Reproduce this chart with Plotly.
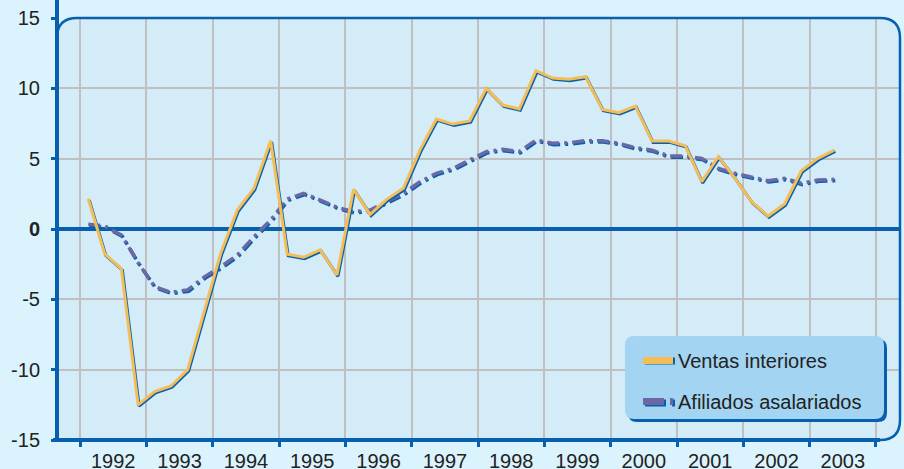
import plotly.graph_objects as go
import pandas as pd

# ---------------- data ----------------
quarters = [str(p) for p in pd.period_range("1992Q1", "2003Q2", freq="Q")]
ventas = [2.15, -1.78, -2.84, -12.5,
          -11.56, -11.16, -10.0, -5.76,
          -1.68, 1.35, 2.89, 6.28,
          -1.8, -2.01, -1.49, -3.27,
          2.82, 1.04, 2.11, 2.89,
          5.61, 7.82, 7.46, 7.68,
          10.0, 8.81, 8.53, 11.25,
          10.73, 10.64, 10.83, 8.5,
          8.27, 8.74, 6.25, 6.25,
          5.92, 3.36, 5.14, 3.6,
          1.94, 0.92, 1.78, 4.14,
          5.02, 5.61]
afiliados = [0.33, 0.21, -0.43, -2.4,
             -4.1, -4.5, -4.33, -3.4,
             -2.68, -1.85, -0.55, 0.64,
             2.13, 2.54, 2.06, 1.54,
             1.23, 1.35, 1.94, 2.54,
             3.36, 3.96, 4.31, 4.9,
             5.5, 5.66, 5.5, 6.33,
             6.09, 6.13, 6.28, 6.28,
             6.09, 5.78, 5.61, 5.19,
             5.19, 5.02, 4.31, 3.96,
             3.67, 3.43, 3.6, 3.25,
             3.48, 3.53]
y_ticks = [-15, -10, -5, 0, 5, 10, 15]
y_ticktext = ["-15", "-10", "-5", "<b>0</b>", "5", "10", "15"]
series_names = ["Ventas interiores", "Afiliados asalariados"]

# ---------------- style ----------------
BLUE = "#0660ad"
YELLOW = "#f4bd56"
PURPLE = "#6c68a6"
PAPER = "#dbf3fd"
PLOTBG = "#d4ebf8"
LEGBG = "#a3d4f1"
GRID = "#c0c0c0"
TXT = "#222222"
FONT = "Liberation Sans, Arial, sans-serif"

W, H = 904, 469
ML, MR, MT, MB = 57, 4, 18, 29
PW, PH = W - ML - MR, H - MT - MB
PX_PER_YEAR = 66.33

periods = pd.PeriodIndex(quarters, freq="Q")
x = [p.start_time + (p.end_time - p.start_time) / 2 for p in periods]
day_px = 365.25 / PX_PER_YEAR
x_sh = [d + pd.Timedelta(days=1.0 * day_px) for d in x]
dy = 1.3 * 30 / PH

x_left = pd.Timestamp("1992-01-01") - pd.Timedelta(days=(80 - ML) * day_px)
x_right = pd.Timestamp("1992-01-01") + pd.Timedelta(days=(W - MR - 80) * day_px)

DASH = "12px,5px,3px,5px"
LEG_DASH = "21px,6px,3px,100px"

fig = go.Figure()
# Afiliados (shadow + line)
fig.add_trace(go.Scatter(x=x_sh, y=[v - dy for v in afiliados], mode="lines",
                         line=dict(color=BLUE, width=3.5, dash=DASH),
                         showlegend=False, hoverinfo="skip"))
fig.add_trace(go.Scatter(x=x, y=afiliados, mode="lines", name=series_names[1],
                         line=dict(color=PURPLE, width=3.5, dash=DASH),
                         showlegend=False))
# Ventas (shadow + line)
fig.add_trace(go.Scatter(x=x_sh, y=[v - dy for v in ventas], mode="lines",
                         line=dict(color=BLUE, width=3),
                         showlegend=False, hoverinfo="skip"))
fig.add_trace(go.Scatter(x=x, y=ventas, mode="lines", name=series_names[0],
                         line=dict(color=YELLOW, width=3),
                         showlegend=False))
# legend-only entries
fig.add_trace(go.Scatter(x=[None], y=[None], mode="lines", name=series_names[0],
                         line=dict(color=YELLOW, width=7), legendgroup="a"))
fig.add_trace(go.Scatter(x=[None], y=[None], mode="lines", name=series_names[1],
                         line=dict(color=PURPLE, width=7, dash=LEG_DASH),
                         legendgroup="b"))

def px_x(px):
    return (px - ML) / PW

def px_y(py):
    return (H - MB - py) / PH

rx, ry = 20 / PW, 20 / PH
frame_fill = (f"M 0,0 L 0,{1-ry} Q 0,1 {rx},1 L {1-rx},1 Q 1,1 1,{1-ry} "
              f"L 1,{ry} Q 1,0 {1-rx},0 Z")
frame_line = (f"M 0,{1-ry} Q 0,1 {rx},1 L {1-rx},1 Q 1,1 1,{1-ry} "
              f"L 1,{ry} Q 1,0 {1-rx},0")

def rrect(x0, y0, x1, y1, r):
    a0, a1 = px_x(x0), px_x(x1)
    b0, b1 = px_y(y1), px_y(y0)
    qx, qy = r / PW, r / PH
    return (f"M {a0+qx},{b0} L {a1-qx},{b0} Q {a1},{b0} {a1},{b0+qy} "
            f"L {a1},{b1-qy} Q {a1},{b1} {a1-qx},{b1} L {a0+qx},{b1} "
            f"Q {a0},{b1} {a0},{b1-qy} L {a0},{b0+qy} Q {a0},{b0} {a0+qx},{b0} Z")

def pline(x0, x1, y, width, color, dash="solid"):
    return dict(type="line", xref="paper", yref="paper",
                x0=px_x(x0), x1=px_x(x1), y0=px_y(y), y1=px_y(y),
                line=dict(color=color, width=width, dash=dash), layer="above")

LEG_X0 = 643
ROW1, ROW2 = 359, 401

shapes = [
    dict(type="path", path=frame_fill, xref="paper", yref="paper",
         fillcolor=PLOTBG, line=dict(width=0), layer="below"),
    dict(type="path", path=frame_line, xref="paper", yref="paper",
         line=dict(color=BLUE, width=2.5), layer="above"),
    dict(type="line", xref="paper", yref="paper", x0=0, x1=0,
         y0=-2 / PH, y1=1 + MT / PH, line=dict(color=BLUE, width=4), layer="above"),
    dict(type="line", xref="paper", yref="paper", x0=-4 / PW, x1=1 - rx,
         y0=0, y1=0, line=dict(color=BLUE, width=4), layer="above"),
    # legend box shadow and box
    dict(type="path", path=rrect(628, 339, 887, 422, 9), xref="paper", yref="paper",
         fillcolor=BLUE, line=dict(width=0), layer="above"),
    dict(type="path", path=rrect(625, 336, 884, 419, 9), xref="paper", yref="paper",
         fillcolor=LEGBG, line=dict(width=0), layer="above"),
    # legend symbol shadows
    pline(LEG_X0 + 2, LEG_X0 + 32, ROW1 + 2, 7, BLUE),
    pline(LEG_X0 + 2, LEG_X0 + 32, ROW2 + 2, 7, BLUE, LEG_DASH),
]

fig.update_layout(
    width=W, height=H,
    margin=dict(l=ML, r=MR, t=MT, b=MB, pad=0, autoexpand=False),
    paper_bgcolor=PAPER, plot_bgcolor=PAPER,
    font=dict(family=FONT, size=20, color=TXT),
    shapes=shapes,
    showlegend=True,
    legend=dict(x=px_x(630 + 8), y=px_y(340 + 1), xanchor="left", yanchor="top",
                bgcolor="rgba(0,0,0,0)", borderwidth=0,
                font=dict(family=FONT, size=20, color=TXT),
                tracegroupgap=12, itemwidth=30),
    xaxis=dict(type="date", range=[x_left, x_right], automargin=False,
               tick0="1992-01-01", dtick="M12", tickformat="%Y",
               ticklabelmode="period", ticklabelstandoff=-3,
               showgrid=True, gridcolor=GRID, gridwidth=2,
               ticks="outside", ticklen=6, tickwidth=3, tickcolor=BLUE,
               showline=False, zeroline=False,
               tickfont=dict(size=20, color=TXT)),
    yaxis=dict(range=[-15, 15], tickvals=y_ticks, ticktext=y_ticktext,
               automargin=False, ticklabelstandoff=7,
               showgrid=True, gridcolor=GRID, gridwidth=2,
               zeroline=True, zerolinecolor=BLUE, zerolinewidth=4,
               ticks="outside", ticklen=5, tickwidth=3, tickcolor=BLUE,
               showline=False,
               tickfont=dict(size=20, color=TXT)),
)

fig.write_html("out.html", config={"displayModeBar": False},
               post_script="document.body.style.margin='0';document.body.style.background='%s';" % PAPER)
